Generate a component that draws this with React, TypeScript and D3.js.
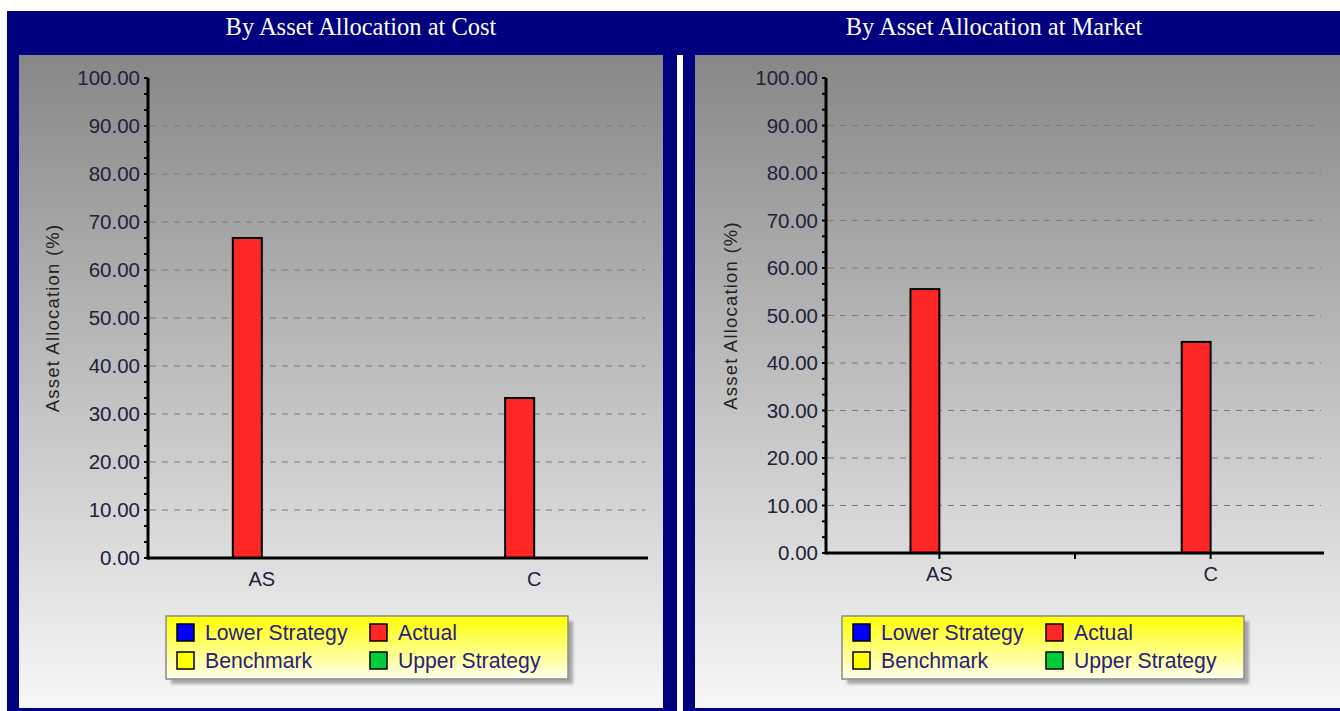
import * as d3 from "d3";

const W = 1340;
const H = 711;

const categories = ["AS", "C"];
const seriesNames = ["Lower Strategy", "Actual", "Benchmark", "Upper Strategy"];
const seriesColors = ["#0000ff", "#ff2626", "#ffff00", "#00cc3c"];
const yTicks = [0, 10, 20, 30, 40, 50, 60, 70, 80, 90, 100];

// values per series, one entry per category (null = not drawn)
const costLower: (number | null)[] = [null, null];
const costActual: (number | null)[] = [66.67, 33.33];
const costBenchmark: (number | null)[] = [null, null];
const costUpper: (number | null)[] = [null, null];

const marketLower: (number | null)[] = [null, null];
const marketActual: (number | null)[] = [55.56, 44.44];
const marketBenchmark: (number | null)[] = [null, null];
const marketUpper: (number | null)[] = [null, null];

const FONT = "'Liberation Sans', Arial, sans-serif";

interface PanelProps {
  title: string;
  titleX: number;
  frame: [number, number]; // navy frame x0, x1
  plot: { x0: number; x1: number; y0: number; y1: number };
  legendX: number;
  series: (number | null)[][];
  catTicks: boolean;
  id: string;
}

function Panel({ title, titleX, frame, plot, legendX, series, catTicks, id }: PanelProps) {
  const y = d3.scaleLinear().domain([0, 100]).range([plot.y1, plot.y0]);
  const x = d3.scalePoint<string>().domain(categories).range([plot.x0, plot.x1]).padding(0.418);
  const barW = x.step() * 0.1066;
  const inner = d3
    .scaleBand<string>()
    .domain(seriesNames)
    .range([-barW * 2, barW * 2]);

  const minor = d3.range(0, 100.001, 10 / 3).map((v) => Math.round(v * 100) / 100);
  const innerX0 = frame[0] + 12;
  const innerX1 = frame[1] - 14;

  const legTop = 616;
  const legW = 402;
  const legH = 63;
  const colX = [11, 204];
  const rowY = [8, 36];
  // row-major order: Lower, Actual / Benchmark, Upper
  const legendItems = seriesNames.map((name, i) => ({
    name,
    color: seriesColors[i],
    col: i === 1 || i === 3 ? 1 : 0,
    row: i >= 2 ? 1 : 0,
  }));

  return (
    <g>
      <rect x={frame[0]} y={11} width={frame[1] - frame[0]} height={H - 11} fill="#000080" />
      <rect
        x={innerX0}
        y={55}
        width={innerX1 - innerX0}
        height={708 - 55}
        fill={`url(#bg-${id})`}
      />
      <text
        x={titleX}
        y={35}
        textAnchor="middle"
        fill="#ffffff"
        fontFamily="'Liberation Serif', 'Times New Roman', serif"
        fontSize={24.5}
      >
        {title}
      </text>

      {/* grid */}
      {yTicks
        .filter((t) => t > 0 && t < 100)
        .map((t) => (
          <line
            key={`g${t}`}
            x1={plot.x0 + 2}
            x2={plot.x1 - 3}
            y1={y(t)}
            y2={y(t)}
            stroke="#7a7a7a"
            strokeWidth={1}
            strokeDasharray="6 6"
          />
        ))}

      {/* bars */}
      {series.map((vals, si) =>
        vals.map((v, ci) =>
          v == null ? null : (
            <rect
              key={`b${si}-${ci}`}
              x={(x(categories[ci]) ?? 0) + (inner(seriesNames[si]) ?? 0)}
              y={y(v)}
              width={inner.bandwidth()}
              height={y(0) - y(v)}
              fill={seriesColors[si]}
              stroke="#000"
              strokeWidth={2}
            />
          )
        )
      )}

      {/* y axis */}
      {minor.map((t) => (
        <line key={`m${t}`} x1={plot.x0 - 4} x2={plot.x0} y1={y(t)} y2={y(t)} stroke="#000" strokeWidth={2} />
      ))}
      <line x1={plot.x0} x2={plot.x0} y1={plot.y0} y2={plot.y1 + 1.5} stroke="#000" strokeWidth={3} />
      {yTicks.map((t) => (
        <text
          key={`t${t}`}
          x={plot.x0 - 8}
          y={y(t) + 7}
          textAnchor="end"
          fill="#22223a"
          fontFamily={FONT}
          fontSize={20.5}
        >
          {t.toFixed(2)}
        </text>
      ))}
      <text
        transform={`translate(${plot.x0 - 89},${(plot.y0 + plot.y1) / 2}) rotate(-90)`}
        textAnchor="middle"
        fill="#222"
        fontFamily={FONT}
        fontSize={18.5}
        letterSpacing={1.2}
      >
        Asset Allocation (%)
      </text>

      {/* x axis */}
      <line x1={plot.x0} x2={plot.x1} y1={plot.y1} y2={plot.y1} stroke="#000" strokeWidth={3} />
      {catTicks &&
        [x(categories[0])!, (x(categories[0])! + x(categories[1])!) / 2, x(categories[1])!].map((cx, i) => (
          <line key={`ct${i}`} x1={cx} x2={cx} y1={plot.y1} y2={plot.y1 + 6} stroke="#000" strokeWidth={2} />
        ))}
      {categories.map((c) => (
        <text
          key={c}
          x={x(c)}
          y={plot.y1 + 28}
          textAnchor="middle"
          fill="#22223a"
          fontFamily={FONT}
          fontSize={20}
        >
          {c}
        </text>
      ))}

      {/* legend */}
      <rect x={legendX + 5} y={legTop + 5} width={legW} height={legH} fill="#777" opacity={0.6} filter={`url(#blur-${id})`} />
      <rect x={legendX} y={legTop} width={legW} height={legH} fill={`url(#leg-${id})`} stroke="#8a8a8a" strokeWidth={1.5} />
      {legendItems.map((it) => (
        <g key={it.name}>
          <rect
            x={legendX + colX[it.col]}
            y={legTop + rowY[it.row]}
            width={17}
            height={17}
            fill={it.color}
            stroke="#000"
            strokeWidth={1.5}
          />
          <text
            x={legendX + colX[it.col] + 28}
            y={legTop + rowY[it.row] + 16}
            fill="#28227a"
            fontFamily={FONT}
            fontSize={21.2}
          >
            {it.name}
          </text>
        </g>
      ))}

      <defs>
        <linearGradient id={`bg-${id}`} x1="0" y1="0" x2="0" y2="1">
          <stop offset="0%" stopColor="#878787" />
          <stop offset="100%" stopColor="#f7f7f7" />
        </linearGradient>
        <linearGradient id={`leg-${id}`} x1="0" y1="0" x2="0" y2="1">
          <stop offset="0%" stopColor="#ffff00" />
          <stop offset="100%" stopColor="#ffffee" />
        </linearGradient>
        <filter id={`blur-${id}`} x="-10%" y="-20%" width="120%" height="140%">
          <feGaussianBlur stdDeviation="1.5" />
        </filter>
      </defs>
    </g>
  );
}

export default function App() {
  return (
    <svg
      width={W}
      height={H}
      viewBox={`0 0 ${W} ${H}`}
      style={{ position: "absolute", left: 0, top: 0, background: "#fff" }}
    >
      <rect x={7} y={11} width={W - 7} height={44} fill="#000080" />
      <Panel
        id="cost"
        title="By Asset Allocation at Cost"
        titleX={361}
        frame={[7, 677]}
        plot={{ x0: 148, x1: 648, y0: 78, y1: 558 }}
        legendX={166}
        series={[costLower, costActual, costBenchmark, costUpper]}
        catTicks={false}
      />
      <Panel
        id="market"
        title="By Asset Allocation at Market"
        titleX={994}
        frame={[683, W + 14]}
        plot={{ x0: 826, x1: 1324, y0: 78, y1: 553 }}
        legendX={842}
        series={[marketLower, marketActual, marketBenchmark, marketUpper]}
        catTicks={true}
      />
    </svg>
  );
}
